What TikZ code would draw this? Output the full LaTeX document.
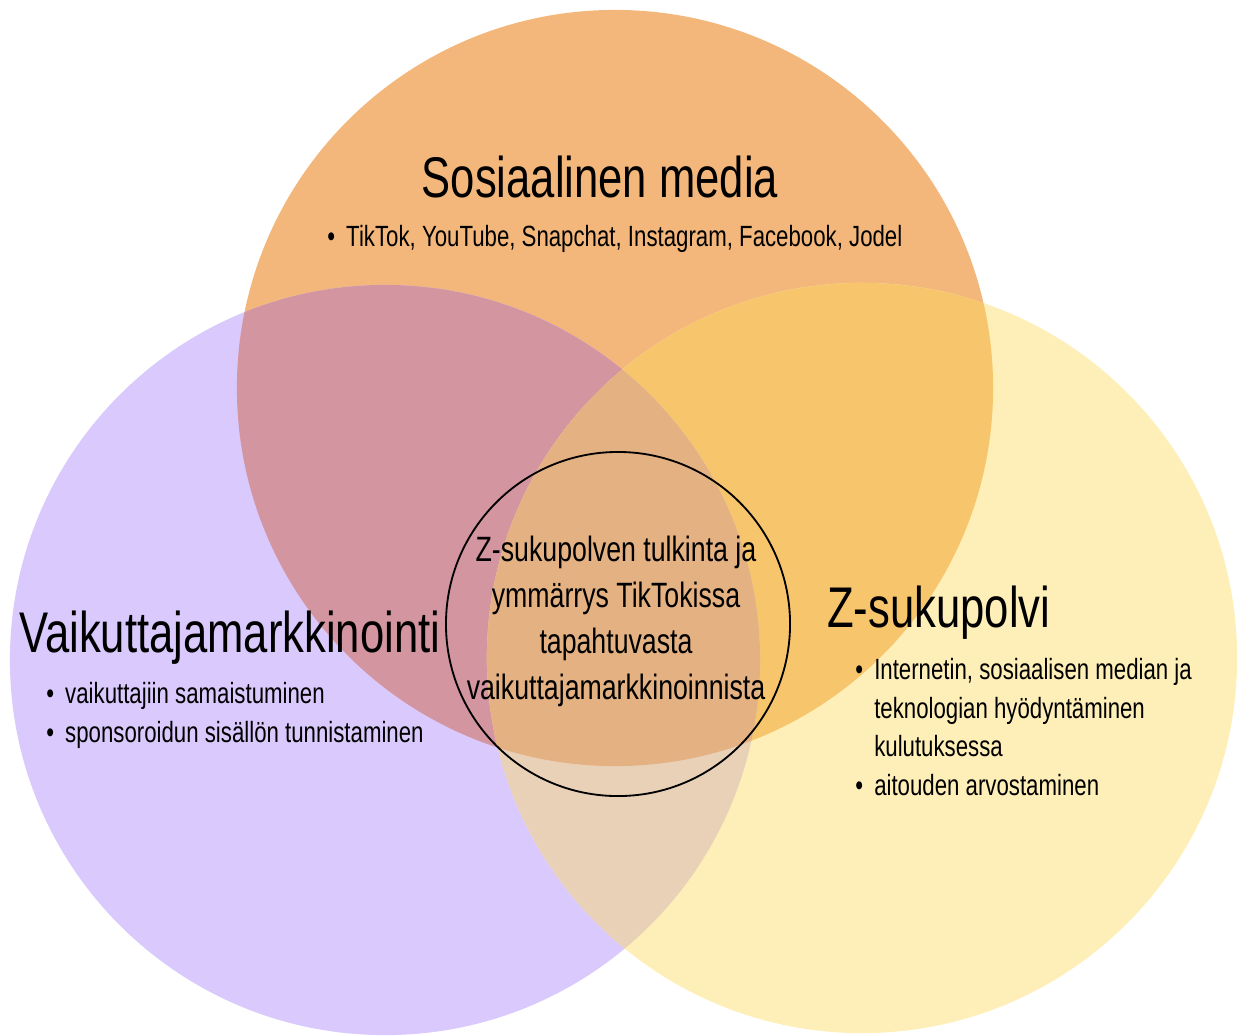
\documentclass[tikz,border=0pt]{standalone}
\usepackage{fontspec}
\setmainfont[FakeStretch=0.76]{Liberation Sans}
\usepackage{tikz}

\definecolor{somfill}{HTML}{F3B77B}
\definecolor{vmfill}{HTML}{D9C9FC}
\definecolor{zsfill}{HTML}{FEEEB8}
\definecolor{somvm}{HTML}{D3959F}
\definecolor{somzs}{HTML}{F7C56C}
\definecolor{vmzs}{HTML}{E9D1B8}
\definecolor{kaikki}{HTML}{E4B183}

\newcommand{\kohta}{\makebox[13.5pt][l]{\textbullet}}
\newcommand{\jatko}{\hspace*{13.5pt}}

\begin{document}
\begin{tikzpicture}[
    x=0.025cm, y=-0.025cm,
    title/.style={font=\fontsize{40.8}{48}\selectfont, inner sep=0pt},
    items/.style={font=\fontsize{20.8}{27.5}\selectfont, align=left, inner sep=0pt},
    core/.style={font=\fontsize{25}{32.7}\selectfont, align=center, inner sep=0pt},
    ring/.style={draw=black, line width=1.3pt},
]
\useasboundingbox (0,0) rectangle (1240,1035);

% --- Circle centres and radii ---
\coordinate (som) at (615,388);
\coordinate (vm) at (385,660);
\coordinate (zs) at (862,658);
\coordinate (ydin) at (618,624);
\def\rsom{9.45cm}
\def\rside{9.375cm}

% --- Circles ---
\fill[somfill] (som) circle (\rsom);
\fill[vmfill] (vm) circle (\rside);
\fill[zsfill] (zs) circle (\rside);

% --- Pairwise overlaps ---
\begin{scope}
    \clip (som) circle (\rsom);
    \fill[somvm] (vm) circle (\rside);
    \fill[somzs] (zs) circle (\rside);
\end{scope}
\begin{scope}
    \clip (vm) circle (\rside);
    \fill[vmzs] (zs) circle (\rside);
\end{scope}

% --- Common area ---
\begin{scope}
    \clip (som) circle (\rsom);
    \clip (vm) circle (\rside);
    \fill[kaikki] (zs) circle (\rside);
\end{scope}

\draw[ring] (ydin) circle (4.3cm);

% --- Sosiaalinen media ---
\node[title, anchor=base] (somotsikko) at (600,197) {Sosiaalinen media};
\node[items, anchor=base west] (somlista) at (327,246)
    {\kohta TikTok, YouTube, Snapchat, Instagram, Facebook, Jodel};

% --- Vaikuttajamarkkinointi ---
\node[title, anchor=base west] (vmotsikko) at (19,652) {Vaikuttajamarkkinointi};
\node[items, anchor=north west] (vmlista) at (46,682)
    {\kohta vaikuttajiin samaistuminen\\
     \kohta sponsoroidun sisällön tunnistaminen};

% --- Z-sukupolvi ---
\node[title, anchor=base west] (zsotsikko) at (827,627) {Z-sukupolvi};
\node[items, anchor=north west] (zslista) at (855,658)
    {\kohta Internetin, sosiaalisen median ja\\
     \jatko teknologian hyödyntäminen\\
     \jatko kulutuksessa\\
     \kohta aitouden arvostaminen};

% --- Centre ---
\node[core, anchor=north] (ydinteksti) at (616,536)
    {Z-sukupolven tulkinta ja\\
     ymmärrys TikTokissa\\
     tapahtuvasta\\
     vaikuttajamarkkinoinnista};

\end{tikzpicture}
\end{document}
